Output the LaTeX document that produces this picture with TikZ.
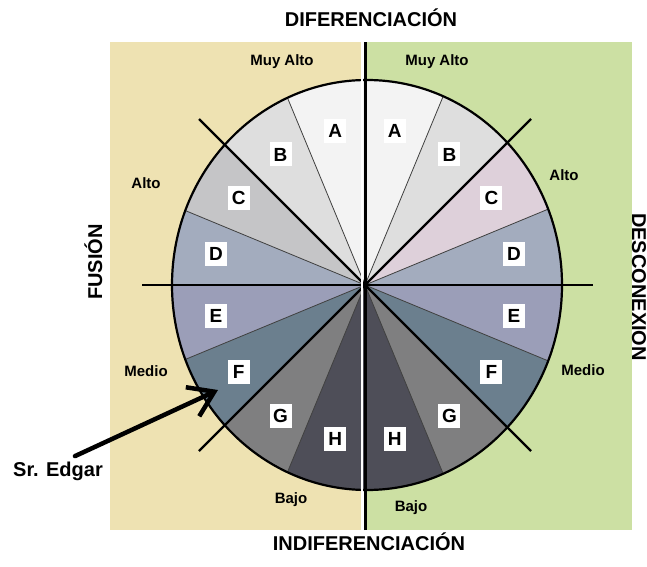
\documentclass[tikz,border=0pt]{standalone}
\usepackage{fontspec}
\setmainfont{Liberation Sans}
\usepackage{tikz}
\usetikzlibrary{arrows.meta}
\definecolor{fusbg}{RGB}{238,226,178}
\definecolor{desbg}{RGB}{204,224,163}
\definecolor{secA}{RGB}{243,243,243}
\definecolor{secB}{RGB}{222,222,222}
\definecolor{secCl}{RGB}{197,197,199}
\definecolor{secCr}{RGB}{222,208,218}
\definecolor{secD}{RGB}{163,172,190}
\definecolor{secE}{RGB}{155,158,184}
\definecolor{secF}{RGB}{107,127,142}
\definecolor{secG}{RGB}{127,127,128}
\definecolor{secH}{RGB}{78,78,88}

\begin{document}
\begin{tikzpicture}[x=1pt,y=1pt,
  axislbl/.style={font=\fontsize{20}{24}\selectfont\bfseries},
  levellbl/.style={font=\fontsize{15}{18}\selectfont\bfseries},
  letter/.style={fill=white,inner sep=0pt,minimum width=22pt,minimum height=24pt,
    font=\fontsize{19}{22}\selectfont\bfseries},
  thinsep/.style={draw=black!75,line width=0.8pt},
  thicksep/.style={line width=2.2pt}]
  \useasboundingbox (0,0) rectangle (647,566);
  % panels
  \fill[fusbg] (110,36) rectangle (361,524);
  \fill[desbg] (367,36) rectangle (632,524);
  \coordinate (c) at (365,281);
  % sectors
  \begin{scope}
    \clip (367,281) ellipse [x radius=195, y radius=205];
    \foreach \a/\col in {90/secA,112.5/secB,135/secCl,157.5/secD,180/secE,202.5/secF,225/secG,247.5/secH}
      \fill[\col] (c) -- +(\a:300) -- +(\a+22.5:300) -- cycle;
    \foreach \a/\col in {67.5/secA,45/secB,22.5/secCr,0/secD,-22.5/secE,-45/secF,-67.5/secG,-90/secH}
      \fill[\col] (c) -- +(\a:300) -- +(\a+22.5:300) -- cycle;
    \foreach \a in {112.5,157.5,202.5,247.5,67.5,22.5,-22.5,-67.5}
      \draw[thinsep] (c) -- +(\a:300);
  \end{scope}
  \draw[line width=2.2pt] (367,281) ellipse [x radius=195, y radius=205];
  % axes
  \draw[thicksep] (142,281) -- (593,281);
  \draw[thicksep] (c) ++(-166,166) -- ++(332,-332);
  \draw[thicksep] (c) ++(166,166) -- ++(-332,-332);
  \draw[white,line width=2.5pt] (362,36) -- (362,524);
  \draw[thicksep] (365.5,36) -- (365.5,524);
  % letters
  \foreach \a/\t in {101.25/A,123.75/B,146.25/C,168.75/D,191.25/E,213.75/F,236.25/G,258.75/H}
    \path (c) ++(\a:152 and 157) node[letter] (l\t) {\t};
  \foreach \a/\t in {78.75/A,56.25/B,33.75/C,11.25/D,-11.25/E,-33.75/F,-56.25/G,-78.75/H}
    \path (c) ++(\a:152 and 157) node[letter] (r\t) {\t};
  % axis titles
  \node[axislbl,anchor=base] (dif) at (371,539) {DIFERENCIACIÓN};
  \node[axislbl,anchor=base] (indif) at (369,16) {INDIFERENCIACIÓN};
  \node[axislbl,anchor=base,rotate=90] (fus) at (102,304) {FUSIÓN};
  \node[axislbl,anchor=base,rotate=-90] (desc) at (632,279) {DESCONEXION};
  % levels
  \node[levellbl] (muyl) at (282,504) {Muy Alto};
  \node[levellbl] (muyr) at (437,504) {Muy Alto};
  \node[levellbl] (altol) at (146,383) {Alto};
  \node[levellbl] (altor) at (564,391) {Alto};
  \node[levellbl] (mediol) at (146,195) {Medio};
  \node[levellbl] (medior) at (583,196) {Medio};
  \node[levellbl] (bajol) at (291,66) {Bajo};
  \node[levellbl] (bajor) at (411,58) {Bajo};
  % Sr. Edgar
  \node[axislbl] (edgar) at (58,95) {Sr. Edgar};
  \coordinate (tip) at (218,176);
  \draw[line width=4.5pt,line cap=round,-{Straight Barb[length=24pt,width=32pt]}]
    ([xshift=17pt,yshift=2pt]edgar.north) -- (tip);
\end{tikzpicture}
\end{document}
